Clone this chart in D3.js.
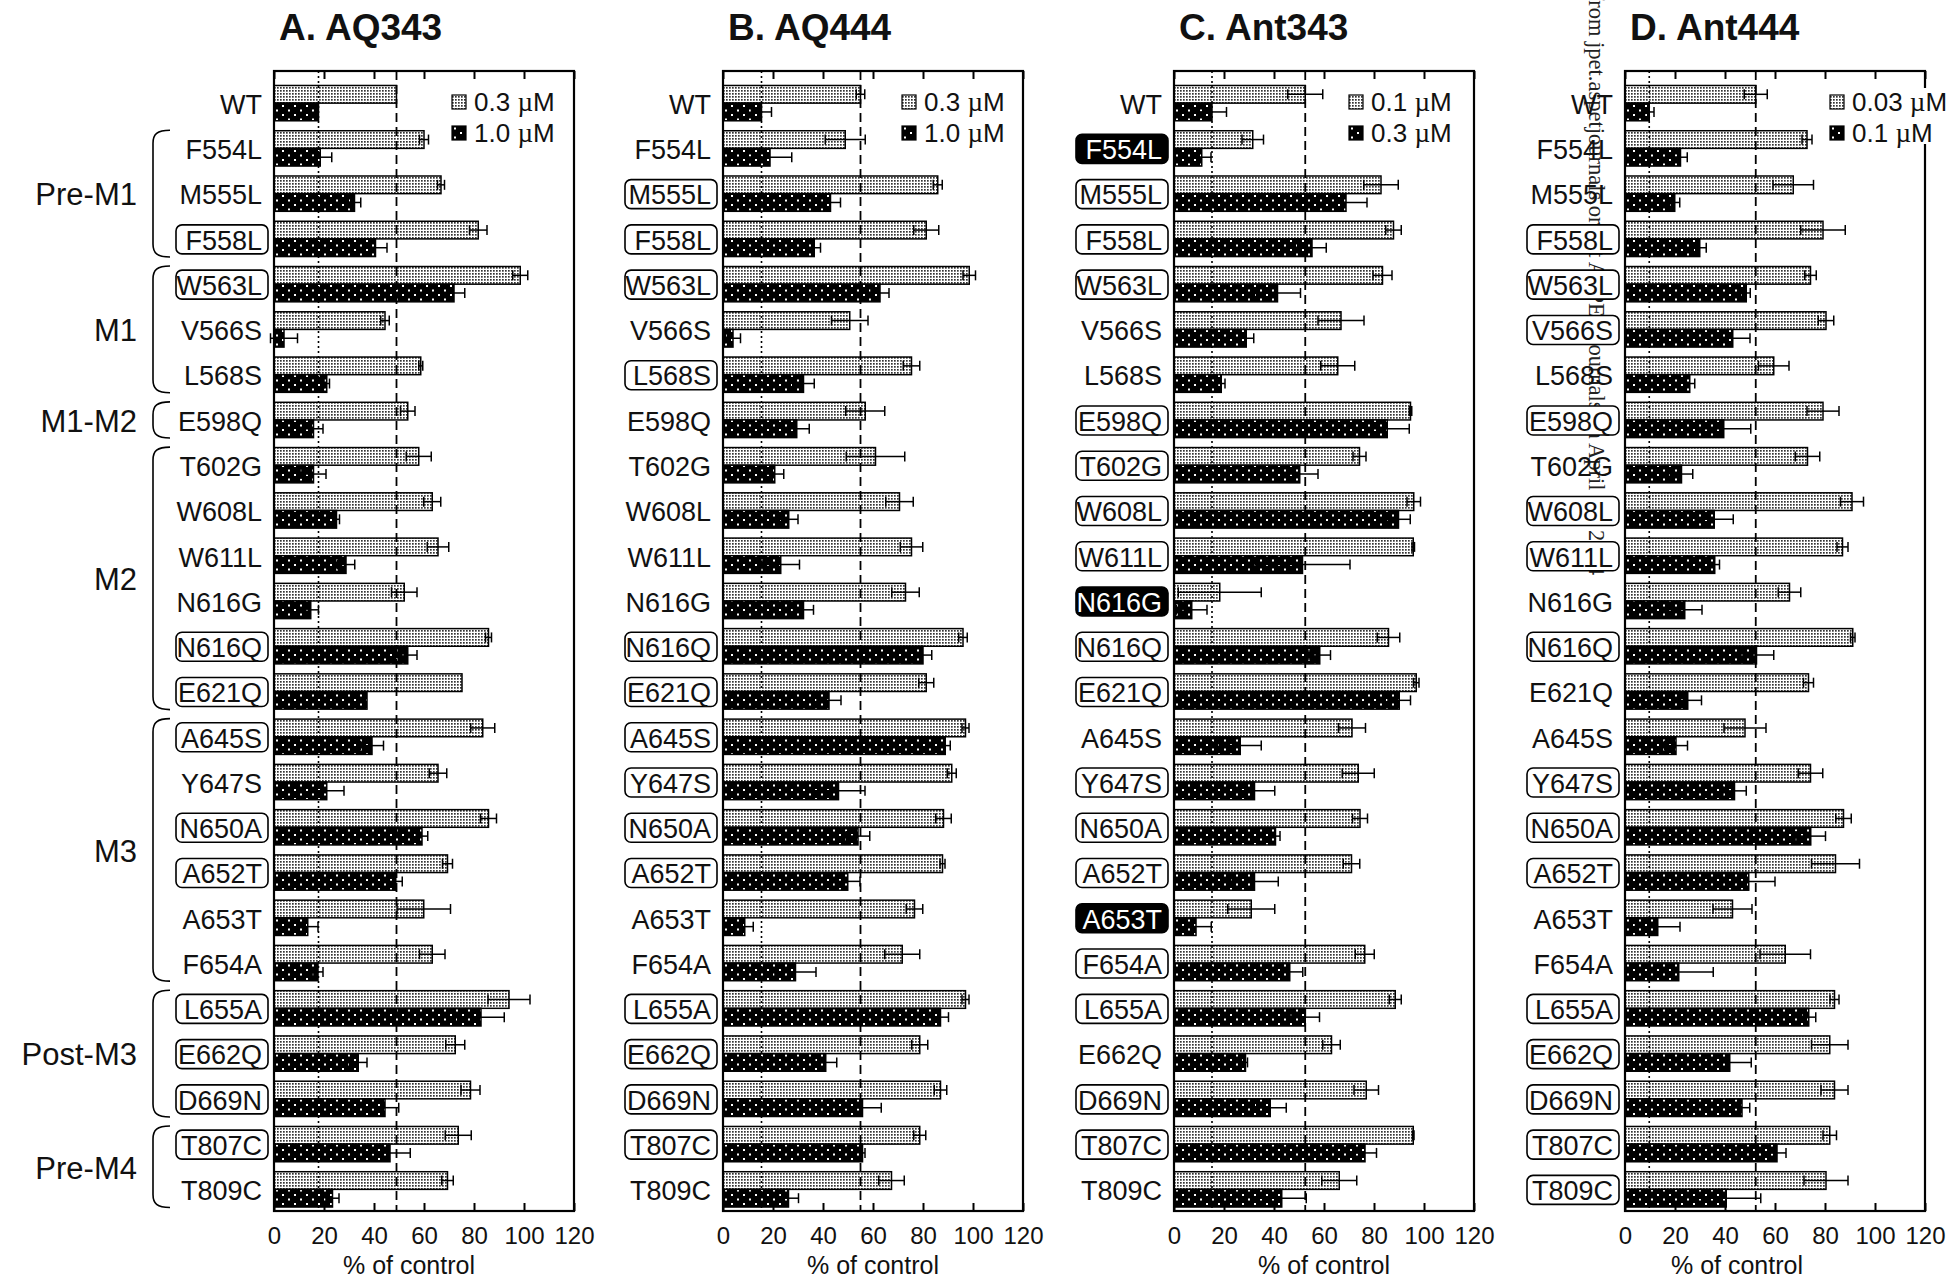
<!DOCTYPE html>
<meta charset="utf-8">
<style>
body { margin: 0; background: #fff; }
svg text { font-family: "Liberation Sans", Arial, sans-serif; fill: #111; }
</style>
<body>
<div id="chart"></div>
<script src="https://cdn.jsdelivr.net/npm/d3@7"></script>
<script>

// mutants, top to bottom
var mutants = ["WT","F554L","M555L","F558L","W563L","V566S","L568S","E598Q","T602G","W608L",
  "W611L","N616G","N616Q","E621Q","A645S","Y647S","N650A","A652T","A653T","F654A",
  "L655A","E662Q","D669N","T807C","T809C"];

// receptor regions (panel A brackets)
var regions     = ["Pre-M1","M1","M1-M2","M2","M3","Post-M3","Pre-M4"];
var regionFirst = ["F554L","W563L","E598Q","T602G","A645S","L655A","T807C"];
var regionLast  = ["F558L","L568S","E598Q","E621Q","F654A","D669N","T809C"];

var titles   = ["A. AQ343","B. AQ444","C. Ant343","D. Ant444"];
var lowDose  = ["0.3","0.3","0.1","0.03"];
var highDose = ["1.0","1.0","0.3","0.1"];
var xTicks   = [0,20,40,60,80,100,120];

// % of control (mean, error) for low and high concentration
var aq343Low     = [49,60,66.8,81.7,98.5,44.4,58.7,53.5,57.9,63.3,65.6,52.1,85.8,75.2,83.5,65.6,85.8,69.4,59.9,63.3,94,72.5,78.6,73.7,69.4];
var aq343LowErr  = [0,1.8,1.4,3.5,3,1.7,0.8,2.9,5,3.4,4.3,5.1,1.2,0,4.8,3.5,3.2,2,10.7,5.1,8.4,3.8,3.8,5.2,2.3];
var aq343High    = [17.8,18.5,32.2,40.6,72,4,21.1,15.8,15.8,25,28.8,14.7,53.5,37.2,39.2,21.1,59.2,48.7,13.5,17.6,82.8,33.7,44.4,46.4,23.4];
var aq343HighErr = [0,4.6,2.5,4.6,4.3,5.4,1.1,3.8,5,1.2,3.5,3.1,3.7,0,4.6,6.9,2.3,2.6,4.1,2,9.3,3.5,5.5,8.1,2.6];

var aq444Low     = [55,48.9,85.9,81.3,98.5,50.7,75.4,56.9,61,70.6,75.4,73,96,81.3,97,91.5,88.2,87.8,76.6,71.7,97,78.7,87,78.7,67.4];
var aq444LowErr  = [1.7,8,1.8,5,2.5,7.3,3.3,7.8,11.7,5.5,4.5,5.5,1.7,3,1.4,1.8,3.1,1,3.3,7,1.4,3.2,2.5,2.4,5.1];
var aq444High    = [15.4,18.8,43,36.5,62.8,4,32.2,29.5,20.7,26.3,23.1,32.2,80,42.4,88.9,46.2,54,49.9,8.7,29,87,41.1,55.8,55.8,26.2];
var aq444HighErr = [4,8.7,4,2.5,3.6,3,4.3,5,3.6,3.7,7.5,4,3.5,4.8,2,10.6,4.7,4.9,3.4,8.2,3.2,4.4,7.5,1,4];

var ant343Low     = [52.5,31.5,82.8,87.8,83.4,66.8,65.5,94.6,74.2,95.9,95.7,18.3,85.8,96.9,71.2,73.7,74.4,71,30.9,76.3,88.5,63,76.9,95.7,66.1];
var ant343LowErr  = [7,4.3,6.9,3.1,3.8,9.2,6.8,0.5,2.6,2.7,0.5,16.6,4.5,1.1,5.4,6.4,3,3.3,9.4,3.8,2.4,3.5,4.9,0.3,7];
var ant343High    = [15.2,11.1,68.8,55.2,41.4,28.9,18.9,85.3,50.3,89.8,51.4,7.1,58.3,90.1,26.5,32.2,40.6,32.2,8.8,46.3,52.5,28.6,38.5,76.4,43.1];
var ant343HighErr = [5.8,3.7,8.4,5.7,9.2,3,1.5,8.8,7.3,4.7,19,6.1,4.3,4.5,8.4,8.1,1.8,9.5,6.1,5.2,5.7,0.8,6.4,4.6,9.8];

var ant444Low     = [52.3,72.8,67.3,79.2,74.2,80.4,59.5,79.2,73,90.8,87,65.8,91.1,73.4,48,74.2,87.4,84.2,43,64.1,83.8,81.9,83.8,81.9,80.4];
var ant444LowErr  = [4.6,2,8.1,8.9,2.3,3.1,6.1,6.4,4.9,4.6,2.2,4.5,0.9,2,8.4,4.9,3.1,9.6,7.8,10.1,1.8,7.3,5.4,2.7,8.8];
var ant444High    = [9.7,22.2,19.9,29.9,48.5,43.1,25.9,39.5,22.6,35.7,35.9,23.9,52.6,25.1,20.4,43.8,74.3,49.5,13.1,21.5,73.5,41.9,46.8,60.8,40.5];
var ant444HighErr = [1.9,2.7,2,2.6,1.6,6.9,2,10.8,4.5,7.6,1.9,6.9,6.9,5.5,4.6,4.7,5.9,10.5,8.9,13.8,2.8,8.6,3.1,3.6,13.8];

// outlined / black-filled labels per panel
var boxedA = ["F558L","W563L","N616Q","E621Q","A645S","N650A","A652T","L655A","E662Q","D669N","T807C"];
var boxedB = ["M555L","F558L","W563L","L568S","N616Q","E621Q","A645S","Y647S","N650A","A652T","L655A","E662Q","D669N","T807C"];
var boxedC = ["M555L","F558L","W563L","E598Q","T602G","W608L","W611L","N616Q","E621Q","Y647S","N650A","A652T","F654A","L655A","D669N","T807C"];
var filledC = ["F554L","N616G","A653T"];
var boxedD = ["F558L","W563L","V566S","E598Q","W608L","W611L","N616Q","Y647S","N650A","A652T","L655A","E662Q","D669N","T807C","T809C"];

var panels = [
  {low: aq343Low,  lowErr: aq343LowErr,  high: aq343High,  highErr: aq343HighErr,  boxed: boxedA, filled: []},
  {low: aq444Low,  lowErr: aq444LowErr,  high: aq444High,  highErr: aq444HighErr,  boxed: boxedB, filled: []},
  {low: ant343Low, lowErr: ant343LowErr, high: ant343High, highErr: ant343HighErr, boxed: boxedC, filled: filledC},
  {low: ant444Low, lowErr: ant444LowErr, high: ant444High, highErr: ant444HighErr, boxed: boxedD, filled: []}
];

// layout
var panelLeft = [274, 723, 1174, 1625],
    plotW = 300, plotTop = 71, plotBottom = 1211,
    legendX = [178, 179, 175, 205],
    xTitleShift = [-15, 0, 0, -38];

var svg = d3.select("#chart").append("svg")
    .attr("width", 1952)
    .attr("height", 1279);

var defs = svg.append("defs");
var light = defs.append("pattern")
    .attr("id", "lightDots").attr("patternUnits", "userSpaceOnUse")
    .attr("width", 3).attr("height", 3);
light.append("rect").attr("width", 3).attr("height", 3).attr("fill", "#fff");
light.append("rect").attr("width", 1.7).attr("height", 1.7).attr("fill", "#333");

var dark = defs.append("pattern")
    .attr("id", "darkDots").attr("patternUnits", "userSpaceOnUse")
    .attr("width", 12).attr("height", 9);
dark.append("rect").attr("width", 12).attr("height", 9).attr("fill", "#000");
dark.append("rect").attr("x", 2).attr("y", 1.5).attr("width", 2).attr("height", 2).attr("fill", "#fff");
dark.append("rect").attr("x", 8).attr("y", 6).attr("width", 2).attr("height", 2).attr("fill", "#fff");

var y = d3.scalePoint().domain(mutants).range([80.5, 1212]).padding(0.5);
var step = y.step(), barH = step * 0.39;
var x = d3.scaleLinear().domain([0, 120]).range([0, plotW]);

// watermark
svg.append("text")
    .attr("transform", "translate(1589,575) rotate(90)")
    .attr("text-anchor", "end")
    .style("font-family", "'Liberation Serif', 'Times New Roman', serif")
    .style("font-size", "22.5px")
    .style("fill", "#222")
    .text("Downloaded from jpet.aspetjournals.org at ASPET Journals on April 19, 2024");

panels.forEach(function(p, k){
  var g = svg.append("g").attr("transform", "translate(" + panelLeft[k] + ",0)");

  g.append("text")
      .attr("x", 5).attr("y", 40)
      .style("font-size", "37px").style("font-weight", "bold")
      .text(titles[k]);

  var rows = mutants.map(function(m, i){
    return {m: m, low: p.low[i], lowErr: p.lowErr[i], high: p.high[i], highErr: p.highErr[i]};
  });

  // bars
  g.selectAll(".lowBar").data(rows).enter().append("rect")
      .attr("x", x(0)).attr("y", function(d){ return y(d.m) - barH; })
      .attr("width", function(d){ return x(d.low); }).attr("height", barH)
      .attr("fill", "url(#lightDots)").attr("stroke", "#000").attr("stroke-width", 1.5);
  g.selectAll(".highBar").data(rows).enter().append("rect")
      .attr("x", x(0)).attr("y", function(d){ return y(d.m); })
      .attr("width", function(d){ return x(d.high); }).attr("height", barH)
      .attr("fill", "url(#darkDots)").attr("stroke", "#000").attr("stroke-width", 1.5);

  // error bars
  var errs = [];
  rows.forEach(function(d){
    if (d.lowErr > 0) errs.push({v: d.low, e: d.lowErr, cy: y(d.m) - barH / 2});
    if (d.highErr > 0) errs.push({v: d.high, e: d.highErr, cy: y(d.m) + barH / 2});
  });
  var eb = g.selectAll(".err").data(errs).enter().append("g")
      .attr("stroke", "#000").attr("stroke-width", 1.5);
  eb.append("line")
      .attr("x1", function(d){ return x(d.v - d.e); }).attr("x2", function(d){ return x(d.v + d.e); })
      .attr("y1", function(d){ return d.cy; }).attr("y2", function(d){ return d.cy; });
  eb.append("line")
      .attr("x1", function(d){ return x(d.v + d.e); }).attr("x2", function(d){ return x(d.v + d.e); })
      .attr("y1", function(d){ return d.cy - 5; }).attr("y2", function(d){ return d.cy + 5; });
  eb.append("line")
      .attr("x1", function(d){ return x(d.v - d.e); }).attr("x2", function(d){ return x(d.v - d.e); })
      .attr("y1", function(d){ return d.cy - 5; }).attr("y2", function(d){ return d.cy + 5; });

  // WT reference lines
  g.append("line")
      .attr("x1", x(p.low[0])).attr("x2", x(p.low[0]))
      .attr("y1", plotTop).attr("y2", plotBottom)
      .attr("stroke", "#000").attr("stroke-width", 1.8).attr("stroke-dasharray", "9,5");
  g.append("line")
      .attr("x1", x(p.high[0])).attr("x2", x(p.high[0]))
      .attr("y1", plotTop).attr("y2", plotBottom)
      .attr("stroke", "#000").attr("stroke-width", 1.6).attr("stroke-dasharray", "2,3");

  // frame + axes
  var bottomAxis = g.append("g")
      .attr("transform", "translate(0," + plotBottom + ")")
      .call(d3.axisBottom(x).tickValues(xTicks).tickSizeInner(-8).tickSizeOuter(0).tickPadding(16));
  bottomAxis.select(".domain").remove();
  bottomAxis.selectAll("line").attr("stroke-width", 2);
  bottomAxis.selectAll("text").style("font-size", "24px")
      .style("font-family", "'Liberation Sans', Arial, sans-serif").attr("fill", "#111");

  var topAxis = g.append("g")
      .attr("transform", "translate(0," + plotTop + ")")
      .call(d3.axisTop(x).tickValues(xTicks).tickSizeInner(-8).tickSizeOuter(0).tickFormat(""));
  topAxis.select(".domain").remove();
  topAxis.selectAll("line").attr("stroke-width", 2);

  g.append("text")
      .attr("x", plotW / 2 + xTitleShift[k]).attr("y", 1274)
      .attr("text-anchor", "middle").style("font-size", "25px")
      .text("% of control");

  g.append("rect")
      .attr("x", 0).attr("y", plotTop).attr("width", plotW).attr("height", plotBottom - plotTop)
      .attr("fill", "none").attr("stroke", "#000").attr("stroke-width", 2.2);

  // legend (in panel D it runs over the frame and hides it)
  var lg = g.append("g").attr("transform", "translate(" + legendX[k] + ",0)");
  if (k === 3) {
    lg.append("rect").attr("x", -4).attr("y", 88).attr("width", 130).attr("height", 56).attr("fill", "#fff");
  }
  [[lowDose[k], "url(#lightDots)", 102], [highDose[k], "url(#darkDots)", 133]].forEach(function(it){
    lg.append("rect").attr("x", 0).attr("y", it[2] - 7).attr("width", 14).attr("height", 14)
        .attr("fill", it[1]).attr("stroke", "#000").attr("stroke-width", 1.2);
    var t = lg.append("text").attr("x", 22).attr("y", it[2]).attr("dy", "0.36em")
        .style("font-size", "26px");
    t.append("tspan").text(it[0] + " ");
    t.append("tspan").style("font-family", "'Liberation Serif', serif").style("font-size", "27px").text("µ");
    t.append("tspan").text("M");
  });

  // mutant labels
  mutants.forEach(function(m){
    var isBox = p.boxed.indexOf(m) >= 0, isFill = p.filled.indexOf(m) >= 0;
    if (isBox || isFill) {
      g.append("rect")
          .attr("x", -98).attr("y", y(m) - 14).attr("width", 92).attr("height", 29).attr("rx", 6)
          .attr("fill", isFill ? "#000" : "#fff").attr("stroke", "#000").attr("stroke-width", 1.6);
    }
    g.append("text")
        .attr("x", -12).attr("y", y(m)).attr("dy", "0.4em")
        .attr("text-anchor", "end").style("font-size", "27px")
        .style("fill", isFill ? "#fff" : "#111")
        .text(m);
  });
});

// region brackets on panel A
regions.forEach(function(r, i){
  var top = y(regionFirst[i]) - step * 0.4,
      bot = y(regionLast[i]) + step * 0.4,
      mid = (y(regionFirst[i]) + y(regionLast[i])) / 2;
  svg.append("path")
      .attr("d", "M170," + top + " C157," + top + " 153," + (top + 4) + " 153," + (top + 13) +
                 " L153," + (bot - 13) + " C153," + (bot - 4) + " 157," + bot + " 170," + bot)
      .attr("fill", "none").attr("stroke", "#000").attr("stroke-width", 1.6);
  svg.append("text")
      .attr("x", 137).attr("y", mid).attr("dy", "0.38em")
      .attr("text-anchor", "end").style("font-size", "31px")
      .text(r);
});

</script>
